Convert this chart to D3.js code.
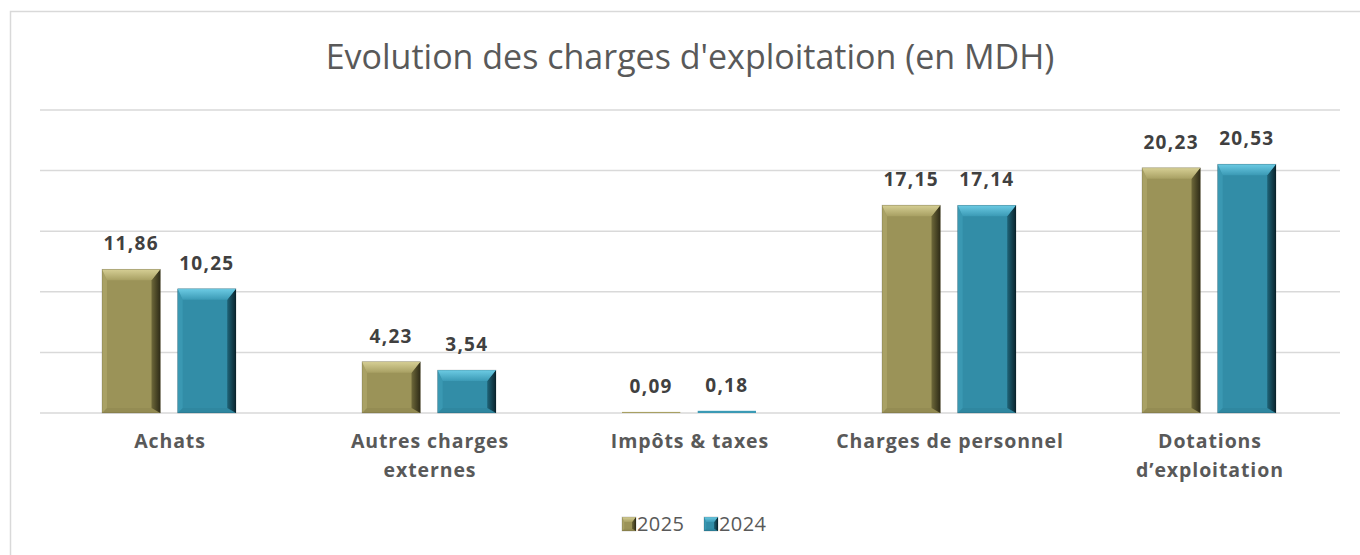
<!DOCTYPE html>
<html>
<head>
<meta charset="utf-8">
<script src="https://cdn.jsdelivr.net/npm/d3@7"></script>
<style>
  body { margin: 0; background: #fff; }
  svg { display: block; font-family: "Open Sans", "Liberation Sans", sans-serif; }
</style>
</head>
<body>
<svg></svg>
<script>
// Chart size
const width = 1360;
const height = 555;

// Data
const categories = ["Achats", "Autres charges externes", "Impôts & taxes", "Charges de personnel", "Dotations d’exploitation"];
const categoryLines = [["Achats"], ["Autres charges", "externes"], ["Impôts & taxes"], ["Charges de personnel"], ["Dotations", "d’exploitation"]];
const seriesNames = ["2025", "2024"];
const values2025 = [11.86, 4.23, 0.09, 17.15, 20.23];
const values2024 = [10.25, 3.54, 0.18, 17.14, 20.53];
const yTicks = [0, 5, 10, 15, 20, 25];

const colors = {
    "2025": { base: "#9b9358", topA: "#d6cf95", topB: "#a8a063", left: "#a9a165", rightA: "#6e6839", rightB: "#2e2b17", bottom: "#948c53" },
    "2024": { base: "#328da7", topA: "#6ccbe4", topB: "#3b9ab5", left: "#3a98b2", rightA: "#1f6478", rightB: "#0a232c", bottom: "#2f87a0" }
};

const svg = d3.select("svg")
    .attr("width", width)
    .attr("height", height);

// Gradients for the bevel
const defs = svg.append("defs");
Object.entries(colors).forEach(([name, c]) => {
    const gt = defs.append("linearGradient").attr("id", "top" + name)
        .attr("x1", 0).attr("y1", 0).attr("x2", 0).attr("y2", 1);
    gt.append("stop").attr("offset", "0%").attr("stop-color", c.topA);
    gt.append("stop").attr("offset", "100%").attr("stop-color", c.topB);
    const gr = defs.append("linearGradient").attr("id", "right" + name)
        .attr("x1", 0).attr("y1", 0).attr("x2", 1).attr("y2", 0);
    gr.append("stop").attr("offset", "0%").attr("stop-color", c.rightA);
    gr.append("stop").attr("offset", "100%").attr("stop-color", c.rightB);
});

// Outer frame
svg.append("rect")
    .attr("x", 10.5)
    .attr("y", 11.5)
    .attr("width", 1400)
    .attr("height", 600)
    .attr("fill", "none")
    .attr("stroke", "#d9d9d9")
    .attr("stroke-width", 1.5);

// Title
svg.append("text")
    .attr("x", 690)
    .attr("y", 69)
    .attr("text-anchor", "middle")
    .style("font-size", "34px")
    .style("fill", "#595959")
    .text("Evolution des charges d'exploitation (en MDH)");

// Scales
const margin = { left: 40, right: 1340, top: 110, bottom: 413 };

const x0 = d3.scaleBand()
    .domain(categories)
    .range([margin.left, margin.right])
    .paddingInner(0)
    .paddingOuter(0);

const x1 = d3.scaleBand()
    .domain(seriesNames)
    .range([62, 196])
    .paddingInner(0.23);

const y = d3.scaleLinear()
    .domain([0, 25])
    .range([margin.bottom, margin.top]);

// Gridlines
svg.append("g")
    .selectAll("line")
    .data(yTicks)
    .enter()
    .append("line")
    .attr("x1", margin.left)
    .attr("x2", margin.right)
    .attr("y1", d => y(d))
    .attr("y2", d => y(d))
    .attr("stroke", "#d9d9d9")
    .attr("stroke-width", 1.5);

// Bevelled bar
function drawBar(g, x, yTop, w, h, name, bevel) {
    const c = colors[name];
    const bt = Math.min(bevel, h / 2);
    const br = Math.min(bevel * 0.8, w / 2);
    const bl = Math.min(bevel * 0.45, w / 2);
    const x2 = x + w, y2 = yTop + h;
    if (h < 3) {
        // very small values: just a thin flat strip
        g.append("rect").attr("x", x).attr("y", yTop).attr("width", w).attr("height", h).attr("fill", c.topB);
        return;
    }
    g.append("rect").attr("x", x).attr("y", yTop).attr("width", w).attr("height", h).attr("fill", c.base);
    const poly = (pts, fill) => g.append("polygon").attr("points", pts.map(p => p.join(",")).join(" ")).attr("fill", fill);
    poly([[x, y2], [x + bl, y2 - bl], [x2 - br, y2 - bl], [x2, y2]], c.bottom);
    poly([[x, yTop], [x + bl, yTop + bt], [x + bl, y2 - bl], [x, y2]], c.left);
    poly([[x2, yTop], [x2, y2], [x2 - br, y2 - bl], [x2 - br, yTop + bt]], "url(#right" + name + ")");
    poly([[x, yTop], [x2, yTop], [x2 - br, yTop + bt], [x + bl, yTop + bt]], "url(#top" + name + ")");
    g.append("rect").attr("x", x).attr("y", yTop).attr("width", w).attr("height", h)
        .attr("fill", "none").attr("stroke", "rgba(0,0,0,0.25)").attr("stroke-width", 0.6);
}

const series = [
    { name: "2025", values: values2025 },
    { name: "2024", values: values2024 }
];

const barGroup = svg.append("g");
const labelGroup = svg.append("g");

categories.forEach((cat, i) => {
    series.forEach(s => {
        const v = s.values[i];
        const bx = x0(cat) + x1(s.name);
        const bw = x1.bandwidth();
        const top = y(v);
        const h = Math.max(y(0) - top, 1);
        drawBar(barGroup, bx, y(0) - h, bw, h, s.name, 11);
        labelGroup.append("text")
            .attr("x", bx + bw / 2)
            .attr("y", top - 19)
            .attr("text-anchor", "middle")
            .style("font-size", "19px")
            .style("font-weight", "bold")
            .style("letter-spacing", "1.3px")
            .style("fill", "#404040")
            .text(d3.format(".2f")(v).replace(".", ","));
    });
});

// Category labels
const catGroup = svg.append("g");
categories.forEach((cat, i) => {
    const cx = x0(cat) + x0.bandwidth() / 2;
    const t = catGroup.append("text")
        .attr("x", cx)
        .attr("y", 448)
        .attr("text-anchor", "middle")
        .style("font-size", "19.5px")
        .style("font-weight", "bold")
        .style("letter-spacing", "0.9px")
        .style("fill", "#595959");
    categoryLines[i].forEach((line, j) => {
        t.append("tspan")
            .attr("x", cx)
            .attr("dy", j === 0 ? 0 : 29)
            .text(line);
    });
});

// Legend
const legend = svg.append("g");
const legendX = [622, 704];
series.forEach((s, i) => {
    drawBar(legend, legendX[i], 517, 14, 14, s.name, 5);
    legend.append("text")
        .attr("x", legendX[i] + 15)
        .attr("y", 531)
        .style("font-size", "20px")
        .style("letter-spacing", "0.4px")
        .style("fill", "#595959")
        .text(s.name);
});
</script>
</body>
</html>
